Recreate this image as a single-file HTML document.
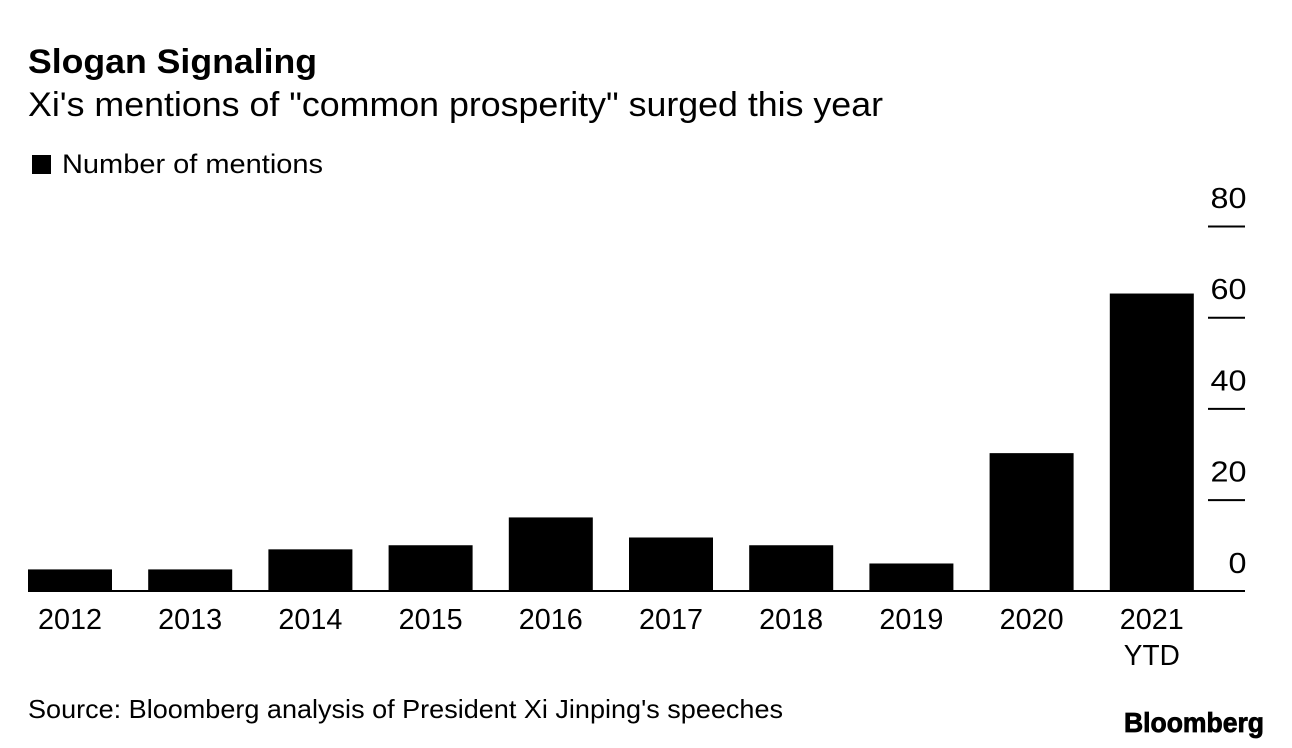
<!DOCTYPE html>
<html>
<head>
<meta charset="utf-8">
<style>
html,body{margin:0;padding:0;background:#fff;}
svg{display:block;}
text{font-family:"Liberation Sans",sans-serif;fill:#000;}
</style>
</head>
<body>
<svg id="chart" width="1292" height="748" viewBox="0 0 1292 748" xmlns="http://www.w3.org/2000/svg">
<rect width="1292" height="748" fill="#fff"/>
<text x="28" y="73" font-size="34" font-weight="700" textLength="289" lengthAdjust="spacingAndGlyphs">Slogan Signaling</text>
<text x="28" y="116" font-size="34" textLength="855" lengthAdjust="spacingAndGlyphs">Xi's mentions of "common prosperity" surged this year</text>
<rect x="32" y="155" width="19" height="19" fill="#000"/>
<text x="62" y="173" font-size="27" textLength="261" lengthAdjust="spacingAndGlyphs">Number of mentions</text>
<g id="bars"></g>
<g id="y-axis"></g>
<g id="x-axis"></g>
<line x1="28" x2="1245" y1="591" y2="591" stroke="#000" stroke-width="2"/>
<text x="28" y="718" font-size="26" textLength="755" lengthAdjust="spacingAndGlyphs">Source: Bloomberg analysis of President Xi Jinping's speeches</text>
<text x="1124" y="732" font-size="28" font-weight="700" stroke="#000" stroke-width="0.8" textLength="140" lengthAdjust="spacingAndGlyphs">Bloomberg</text>
</svg>
<script>
const categories = ["2012","2013","2014","2015","2016","2017","2018","2019","2020","2021"];
const mentions = [4.8,4.8,9.2,10.1,16.2,11.8,10.1,6.1,30.3,65.3];
const yTicks = [0,20,40,60,80];
const NS = "http://www.w3.org/2000/svg";
function xLeft(i){ return 28 + i * 120.2; }
function yPos(v){ return 591.3 - v * 4.56; }
function mk(tag, attrs, parent){
  const el = document.createElementNS(NS, tag);
  for (const k in attrs) el.setAttribute(k, attrs[k]);
  parent.appendChild(el);
  return el;
}
const barsG = document.getElementById("bars");
const yG = document.getElementById("y-axis");
const xG = document.getElementById("x-axis");
mentions.forEach(function(v, i){
  const r = mk("rect", {x: xLeft(i), y: yPos(v), width: 84, height: 591.8 - yPos(v), fill: "#000"}, barsG);
  
  
});
categories.forEach(function(c, i){
  const t = mk("text", {x: xLeft(i) + 42, y: 629, "font-size": 28.5, "text-anchor": "middle", textLength: 64, lengthAdjust: "spacingAndGlyphs"}, xG);
  t.textContent = c;
  
  
});
const ytd = mk("text", {x: xLeft(categories.length - 1) + 42, y: 665, "font-size": 28.5, "text-anchor": "middle", textLength: 56, lengthAdjust: "spacingAndGlyphs"}, xG);
ytd.textContent = "YTD";


yTicks.forEach(function(v){
  const y = yPos(v);
  if (v !== 0) {
    const l = mk("line", {x1: 1208, x2: 1245, y1: y, y2: y, stroke: "#000", "stroke-width": 2}, yG);
    
    
  }
  const label = String(v);
  const t = mk("text", {x: 1246.5, y: y - 18.5, "font-size": 28.5, "text-anchor": "end", textLength: label.length * 18, lengthAdjust: "spacingAndGlyphs"}, yG);
  t.textContent = label;
  
  
});
</script>
</body>
</html>
